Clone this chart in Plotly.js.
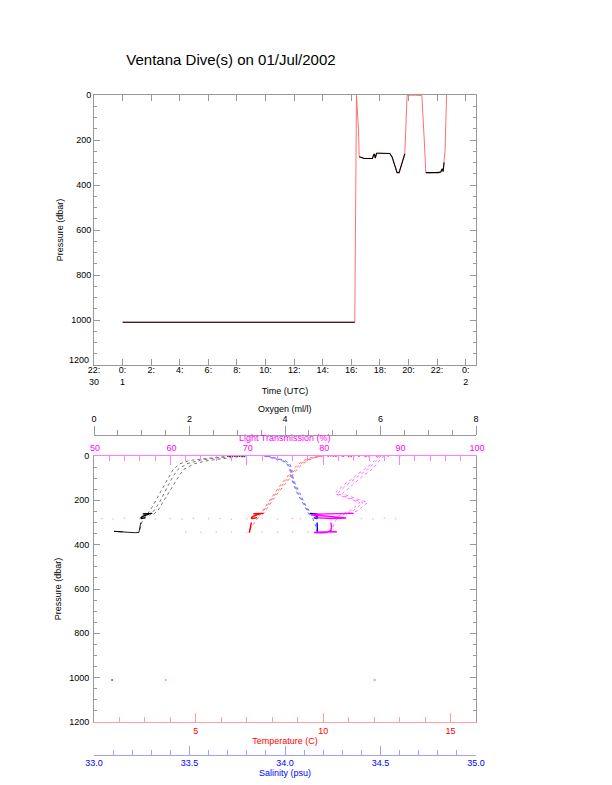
<!DOCTYPE html>
<html>
<head>
<meta charset="utf-8">
<script src="https://cdn.plot.ly/plotly-3.0.1.min.js"></script>
<style>html,body{margin:0;padding:0;background:#fff;}#chart{width:612px;height:785px;}</style>
</head>
<body>
<div id="chart"></div>
<script>
// ---------- Top panel: pressure time series (hours since 01 Jul 00:00 UTC) ----------
const timeHours = [0.0, 16.24, 16.36, 16.5, 16.55, 16.7, 16.9, 17.1, 17.3, 17.48, 17.55, 17.6, 17.68, 17.72, 17.76, 18.0, 18.3, 18.69, 18.85, 18.97, 19.1, 19.2, 19.34, 19.45, 19.58, 19.66, 19.74, 19.9, 20.0, 20.5, 20.93, 21.1, 21.21, 21.5, 21.8, 22.1, 22.25, 22.3, 22.36, 22.42, 22.49, 22.56, 22.66];
const pressureSeries = [1010, 1010, 2, 150, 274, 278, 282, 282, 281, 282, 268, 262, 280, 262, 259, 259, 258, 260, 275, 300, 325, 345, 345, 320, 290, 275, 262, 2, 1, 1, 2, 200, 345, 346, 345, 345, 342, 335, 328, 340, 300, 240, 0];
const atDepthFlag = [1, 1, 0, 0, 1, 1, 1, 1, 1, 1, 1, 1, 1, 1, 1, 1, 1, 1, 1, 1, 1, 1, 1, 1, 1, 1, 1, 0, 0, 0, 0, 0, 1, 1, 1, 1, 1, 1, 1, 1, 1, 0, 0];
const timeTickVals = [-2, 0, 2, 4, 6, 8, 10, 12, 14, 16, 18, 20, 22, 24];
const timeTickText = ['22:<br>30', '0:<br>1', '2:', '4:', '6:', '8:', '10:', '12:', '14:', '16:', '18:', '20:', '22:', '0:<br>2'];
const pressTickVals = [0, 200, 400, 600, 800, 1000, 1200];
const pressTickText = ['0', '200', '400', '600', '800', '1000', '1200'];

// ---------- Bottom panel: profiles ----------
const castDepthShallow = [0, 5, 10, 20, 35, 60, 90, 130, 170, 210, 245, 268];
const castDepthDeep = [0, 5, 10, 20, 35, 60, 90, 130, 170, 210, 245, 270, 300, 325, 345];
const clusterDepth = [259, 259, 260, 259, 261, 262, 265, 268, 272, 275, 280, 282, 281, 278];
const deepDepth = [300, 320, 335, 345, 346, 345, 343, 340, 342];
const surfaceDepth = [0, 1, 0, 2, 1, 0, 1, 2];
const bottomDepth = [1010];

// Oxygen (ml/l)
const oxyCastA = [3.0, 2.75, 2.5, 2.2, 1.95, 1.76, 1.66, 1.56, 1.46, 1.37, 1.26, 1.17];
const oxyCastB = [3.15, 2.95, 2.75, 2.4, 2.1, 1.88, 1.78, 1.67, 1.56, 1.45, 1.34, 1.22];
const oxyCastC = [2.85, 2.6, 2.35, 2.0, 1.8, 1.66, 1.58, 1.48, 1.38, 1.28, 1.18, 1.08, 1.0, 0.97, 0.95];
const oxyCluster = [1.22, 1.18, 1.12, 1.06, 1.02, 1.16, 1.1, 1.05, 1.02, 1.0, 0.98, 1.0, 1.04, 1.08];
const oxyDeep = [0.98, 0.96, 0.95, 0.94, 0.85, 0.7, 0.55, 0.42, 0.6];
const oxySurface = [2.8, 2.9, 3.0, 3.1, 2.85, 2.95, 3.05, 3.15];
const oxyBottom = [0.38];

// Temperature (C)
const tempCastA = [10.0, 9.8, 9.6, 9.4, 9.2, 8.98, 8.75, 8.48, 8.2, 7.95, 7.72, 7.6];
const tempCastB = [9.8, 9.6, 9.45, 9.25, 9.05, 8.82, 8.6, 8.33, 8.08, 7.85, 7.62, 7.5];
const tempCastC = [9.9, 9.7, 9.55, 9.32, 9.12, 8.9, 8.67, 8.4, 8.14, 7.9, 7.67, 7.5, 7.3, 7.15, 7.1];
const tempCluster = [7.65, 7.55, 7.45, 7.35, 7.25, 7.5, 7.4, 7.3, 7.25, 7.2, 7.18, 7.22, 7.3, 7.4];
const tempDeep = [7.18, 7.15, 7.12, 7.1, 7.1, 7.11, 7.12, 7.13, 7.1];
const tempSurface = [10.2, 10.5, 10.8, 11.1, 11.4, 11.7, 10.4, 11.0];
const tempBottom = [3.82];

// Salinity (psu)
const salCastA = [33.89, 33.91, 33.94, 33.98, 34.01, 34.025, 34.03, 34.045, 34.065, 34.09, 34.115, 34.13];
const salCastB = [33.91, 33.93, 33.96, 34.0, 34.025, 34.035, 34.04, 34.055, 34.08, 34.1, 34.125, 34.14];
const salCastC = [33.9, 33.92, 33.95, 33.99, 34.015, 34.03, 34.035, 34.05, 34.07, 34.095, 34.12, 34.14, 34.155, 34.165, 34.17];
const salCluster = [34.13, 34.14, 34.15, 34.16, 34.17, 34.14, 34.15, 34.16, 34.165, 34.17, 34.17, 34.165, 34.16, 34.15];
const salDeep = [34.168, 34.17, 34.17, 34.172, 34.17, 34.168, 34.17, 34.171, 34.17];
const salBottom = [34.47];

// Light transmission (%)
const ltCastA = [87.6, 87.4, 87.2, 87.0, 86.6, 85.8, 84.6, 83.1, 81.8, 85.2, 84.0, 82.5];
const ltCastB = [88.0, 87.8, 87.6, 87.4, 87.0, 86.4, 85.2, 83.8, 82.5, 85.8, 84.6, 83.0];
const ltCastC = [87.3, 87.1, 86.9, 86.7, 86.3, 85.4, 84.2, 82.7, 81.5, 84.8, 83.6, 82.0, 81.5, 81.2, 81.0];
const ltCluster = [84, 83, 82, 81, 80, 79, 78.5, 79.5, 80.5, 82, 83, 81, 80, 79];
const ltDeep = [81.0, 81.1, 81.0, 80.5, 79.5, 78.8, 80.0, 81.5, 81.8];
const ltTrailDepth = [282, 284, 281, 283, 285, 282, 284, 281, 283, 282, 285, 283, 281, 284, 282, 283, 282, 284, 281, 283];
const ltTrail = [51, 52.5, 54, 56, 58, 60, 61.5, 63, 65, 66.5, 68, 70, 72, 74, 76, 77, 85, 86.5, 88, 89.5];
const ltDeepTrailDepth = [343, 344, 342, 343, 345, 343, 344, 342, 343, 344, 343, 345, 344];
const ltDeepTrail = [62, 64, 66, 68, 70, 72, 74, 76, 78, 79, 80, 81, 81.5];
const ltSurface = [81, 82.5, 84, 85.5, 87, 88.5, 90, 86];

// ---------- geometry (px in a 612x785 page) ----------
const W = 612, H = 785;
const px = v => v / W;
const py = v => 1 - v / H;
const xDom = [px(94), px(476)];
const topDom = [py(365), py(95)];
const botDom = [py(722), py(456)];

const FONT = 'Liberation Sans, Arial, Helvetica, sans-serif';
const GREY = '#999999';
const FS = 9;

const blackY = pressureSeries.map((p, i) => atDepthFlag[i] ? p : null);

const traces = [
  {x: timeHours, y: pressureSeries, xaxis: 'x', yaxis: 'y', mode: 'lines', line: {color: '#ff6060', width: 0.9}, hoverinfo: 'skip'},
  {x: timeHours, y: blackY, xaxis: 'x', yaxis: 'y', mode: 'lines', connectgaps: false, line: {color: '#000000', width: 1.1}, hoverinfo: 'skip'}
];

function cast(x, y, axis, color) {
  return {x: x, y: y, xaxis: axis, yaxis: 'y2', mode: 'lines', line: {color: color, width: 1, dash: 'dot'}, hoverinfo: 'skip'};
}
function solid(x, y, axis, color, w) {
  return {x: x, y: y, xaxis: axis, yaxis: 'y2', mode: 'lines', line: {color: color, width: w || 1.5}, hoverinfo: 'skip'};
}
function dots(x, y, axis, color, s) {
  return {x: x, y: y, xaxis: axis, yaxis: 'y2', mode: 'markers', marker: {color: color, size: s || 1.6}, hoverinfo: 'skip'};
}

// Oxygen -> x4, Temperature -> x2, Salinity -> x3, Light transmission -> x5
traces.push(
  dots(ltTrail, ltTrailDepth, 'x5', '#ffa0ff', 1.6),
  dots(ltDeepTrail, ltDeepTrailDepth, 'x5', '#ffa0ff', 1.6),
  cast(oxyCastA, castDepthShallow, 'x4', '#777777'),
  cast(oxyCastB, castDepthShallow, 'x4', '#777777'),
  cast(oxyCastC, castDepthDeep, 'x4', '#777777'),
  cast(tempCastA, castDepthShallow, 'x2', '#ff7070'),
  cast(tempCastB, castDepthShallow, 'x2', '#ff7070'),
  cast(tempCastC, castDepthDeep, 'x2', '#ff7070'),
  cast(salCastA, castDepthShallow, 'x3', '#7070ff'),
  cast(salCastB, castDepthShallow, 'x3', '#7070ff'),
  cast(salCastC, castDepthDeep, 'x3', '#7070ff'),
  cast(ltCastA, castDepthShallow, 'x5', '#ff70ff'),
  cast(ltCastB, castDepthShallow, 'x5', '#ff70ff'),
  cast(ltCastC, castDepthDeep, 'x5', '#ff70ff'),
  solid(ltCluster, clusterDepth, 'x5', '#ff00ff', 1.4),
  solid(ltDeep, deepDepth, 'x5', '#ff00ff', 1.4),
  solid(oxyCluster, clusterDepth, 'x4', '#000000', 1.4),
  solid(oxyDeep, deepDepth, 'x4', '#000000', 0.9),
  solid(tempCluster, clusterDepth, 'x2', '#ff0000', 1.4),
  solid(tempDeep, deepDepth, 'x2', '#ff0000', 1.4),
  solid(salCluster, clusterDepth, 'x3', '#0000ff', 1.4),
  solid(salDeep, deepDepth, 'x3', '#0000ff', 1.4),
  dots(oxySurface, surfaceDepth, 'x4', '#444444', 1.8),
  dots(tempSurface, surfaceDepth, 'x2', '#ff5050', 1.8),
  dots(ltSurface, surfaceDepth, 'x5', '#ff60ff', 1.8),
  dots(oxyBottom, bottomDepth, 'x4', '#666666', 2),
  dots(tempBottom, bottomDepth, 'x2', '#ff80c0', 2),
  dots(salBottom, bottomDepth, 'x3', '#c080ff', 2)
);

const tickFont = {family: FONT, size: FS, color: '#000'};
const titleFont = {family: FONT, size: FS, color: '#000'};

function presAxis(dom, anchor, texts, labelGap) {
  return {
    domain: dom, anchor: anchor, range: [1200, 0], autorange: false,
    tickmode: 'array', tickvals: pressTickVals, ticktext: texts,
    ticks: 'inside', ticklen: 6, tickcolor: GREY, tickwidth: 1,
    ticklabelstandoff: labelGap,
    minor: {tickmode: 'linear', tick0: 0, dtick: 50, ticklen: 3, ticks: 'inside', tickcolor: GREY, tickwidth: 1},
    showline: true, linecolor: GREY, linewidth: 1, mirror: 'ticks',
    showgrid: false, zeroline: false, tickfont: tickFont,
    title: {text: 'Pressure (dbar)', font: titleFont, standoff: 6}
  };
}

function colorAxis(o) {
  const base = {
    showgrid: false, zeroline: false, showline: true, linewidth: 1,
    tickmode: 'linear', tickwidth: 1, ticklen: 9,
  };
  return Object.assign(base, o);
}

// the top panel's lowest pressure label sits slightly raised (as in the reference), drawn as a text note
const topPressTexts = pressTickText.map((t, i) => i === pressTickText.length - 1 ? '' : t);

const layout = {
  width: W, height: H,
  margin: {l: 0, r: 0, t: 0, b: 0},
  paper_bgcolor: '#ffffff', plot_bgcolor: '#ffffff',
  showlegend: false,
  font: {family: FONT, size: FS, color: '#000'},
  title: {text: 'Ventana Dive(s) on 01/Jul/2002', x: 231 / W, xanchor: 'center', y: py(60), yanchor: 'middle', font: {family: FONT, size: 15, color: '#000'}},
  xaxis: {
    domain: xDom, anchor: 'y', range: [-2, 24.72], autorange: false,
    tickmode: 'array', tickvals: timeTickVals, ticktext: timeTickText,
    ticks: 'inside', ticklen: 6, tickcolor: GREY, tickwidth: 1,
    ticklabelstandoff: -4,
    showline: true, linecolor: GREY, linewidth: 1, mirror: 'ticks',
    showgrid: false, zeroline: false, tickfont: tickFont,
    title: {text: 'Time (UTC)', font: titleFont, standoff: 2}
  },
  yaxis: presAxis(topDom, 'x', topPressTexts, 0),
  yaxis2: presAxis(botDom, 'x2', pressTickText, 2),
  xaxis2: colorAxis({
    domain: xDom, anchor: 'y2', side: 'bottom', range: [1, 16],
    tick0: 0, dtick: 5, ticks: 'inside', tickcolor: '#ffa0a0', linecolor: '#ffa0a0',
    minor: {dtick: 1, ticklen: 5, ticks: 'inside', tickcolor: '#ffa0a0', tickwidth: 1},
    tickfont: {family: FONT, size: FS, color: '#ff0000'},
    title: {text: 'Temperature (C)', font: {family: FONT, size: FS, color: '#ff0000'}, standoff: 2}
  }),
  xaxis3: colorAxis({
    domain: xDom, overlaying: 'x2', anchor: 'free', position: py(755), side: 'bottom', range: [33, 35],
    tick0: 33, dtick: 0.5, tickformat: '.1f', ticks: 'inside', tickcolor: '#a0a0ff', linecolor: '#a0a0ff',
    minor: {dtick: 0.1, ticklen: 5, ticks: 'inside', tickcolor: '#a0a0ff', tickwidth: 1},
    ticklabelstandoff: -1,
    tickfont: {family: FONT, size: FS, color: '#0000ff'},
    title: {text: 'Salinity (psu)', font: {family: FONT, size: FS, color: '#0000ff'}, standoff: 1}
  }),
  xaxis4: colorAxis({
    domain: xDom, overlaying: 'x2', anchor: 'free', position: py(435), side: 'top', range: [0, 8],
    tick0: 0, dtick: 2, ticks: 'outside', tickcolor: GREY, linecolor: GREY,
    minor: {dtick: 0.5, ticklen: 5, ticks: 'outside', tickcolor: GREY, tickwidth: 1},
    tickfont: tickFont
  }),
  xaxis5: colorAxis({
    domain: xDom, overlaying: 'x2', anchor: 'y2', side: 'top', range: [50, 100],
    tick0: 50, dtick: 10, ticks: 'inside', tickcolor: '#ff80ff', linecolor: '#ff80ff',
    minor: {dtick: 2, ticklen: 5, ticks: 'inside', tickcolor: '#ff80ff', tickwidth: 1},
    ticklabelstandoff: 0, ticklabelshift: 1,
    tickfont: {family: FONT, size: FS, color: '#ff00ff'}
  }),
  annotations: [
    {text: pressTickText[pressTickText.length - 1], xref: 'paper', yref: 'paper', x: 91 / W, y: py(360), xanchor: 'right', yanchor: 'middle', showarrow: false, font: tickFont},
    {text: 'Oxygen (ml/l)', xref: 'paper', yref: 'paper', x: 285 / W, y: py(409), xanchor: 'center', yanchor: 'middle', showarrow: false, font: {family: FONT, size: FS, color: '#000'}},
    {text: 'Light Transmission (%)', xref: 'paper', yref: 'paper', x: 285 / W, y: py(437.5), xanchor: 'center', yanchor: 'middle', showarrow: false, font: {family: FONT, size: FS, color: '#ff00ff'}}
  ]
};

Plotly.newPlot('chart', traces, layout, {staticPlot: true, displayModeBar: false});
</script>
</body>
</html>
